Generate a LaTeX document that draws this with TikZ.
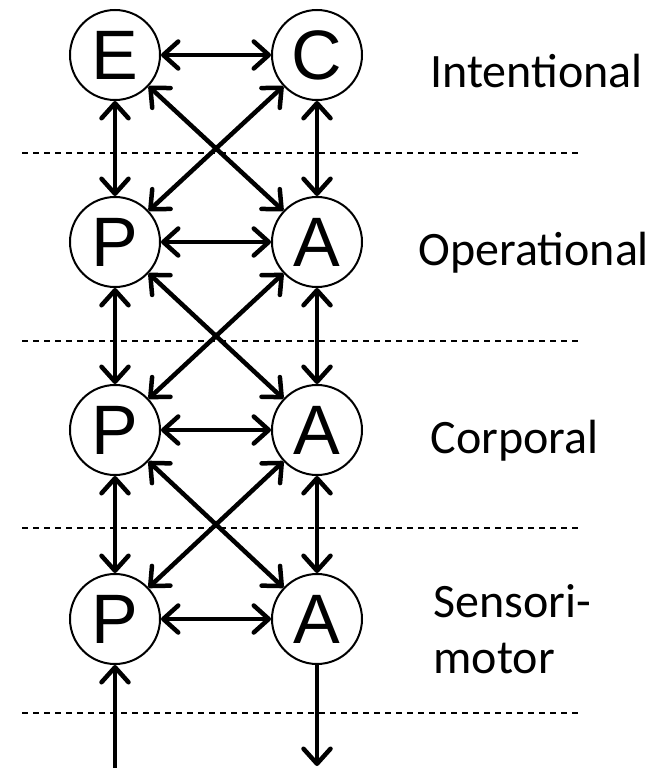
\documentclass[tikz,border=0pt]{standalone}
\usepackage{fontspec}
\newfontfamily\arialfont{Liberation Sans}
\newfontfamily\calfont{Carlito}
\usetikzlibrary{arrows.meta}

\begin{document}
\begin{tikzpicture}[
		x={(1pt,0pt)},
		y={(0pt,-1pt)},
		lvl/.style={circle,draw,line width=2pt,minimum size=90pt,inner sep=0pt,fill=white,font=\arialfont\fontsize{70}{70}\selectfont},
		barb/.tip={Straight Barb[length=15pt,width=27pt,round]},
		link/.style={line width=4.5pt,barb-barb},
		tag/.style={anchor=base west,align=left,font=\calfont\fontsize{48}{56}\selectfont},
	]
		\useasboundingbox (0,0) rectangle (650,768);
		\foreach \y in {153,341,528,713}{
			\draw[line width=1.3pt,dash pattern=on 6pt off 5pt] (22,\y) -- (578,\y);
		}

		\node[lvl] (intE) at (115,55) {E};
		\node[lvl] (intC) at (317,55) {C};
		\node[lvl] (opP) at (115,242) {P};
		\node[lvl] (opA) at (317,242) {A};
		\node[lvl] (corP) at (115,430) {P};
		\node[lvl] (corA) at (317,430) {A};
		\node[lvl] (smP) at (115,619) {P};
		\node[lvl] (smA) at (317,619) {A};

		\node[tag] (intName) at (427,87) {Intentional};
		\node[tag] (opName) at (415,265) {Operational};
		\node[tag] (corName) at (427,453) {Corporal};
		\node[tag] (smName) at (430,673) {Sensori-\\motor};

		% links inside each level
		\foreach \l/\r in {intE/intC, opP/opA, corP/corA, smP/smA}{
			\draw[link] (\l) -- (\r);
		}
		% links between levels
		\foreach \l/\r/\ll/\rr in {intE/intC/opP/opA, opP/opA/corP/corA, corP/corA/smP/smA}{
			\draw[link] (\l) -- (\ll);
			\draw[link] (\r) -- (\rr);
			\draw[link] (\l) -- (\rr);
			\draw[link] (\r) -- (\ll);
		}

		\coordinate (senseIn) at (115,770);
		\coordinate (motorOut) at (317,766);
		\draw[line width=4.5pt,-barb] (senseIn) -- (smP);
		\draw[line width=4.5pt,-barb] (smA) -- (motorOut);
	\end{tikzpicture}
\end{document}
